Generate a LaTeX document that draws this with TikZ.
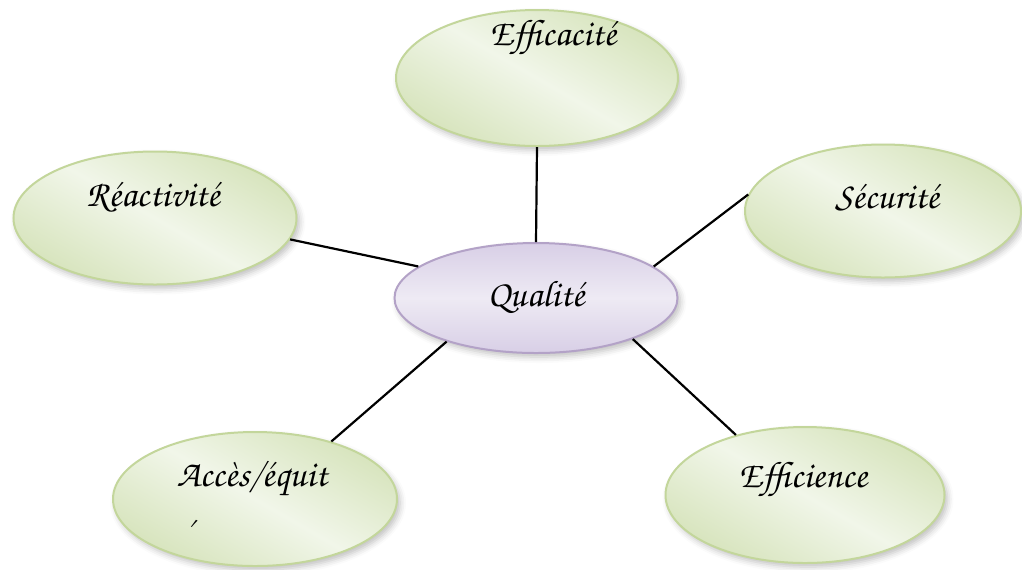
\documentclass[tikz,border=0pt]{standalone}
\usepackage[T1,TU]{fontenc}
\usetikzlibrary{shapes.geometric,shadows.blur}
\newcommand\chancery{\fontencoding{T1}\fontfamily{pzc}\fontseries{mb}\fontshape{it}\selectfont}
\definecolor{gedge}{HTML}{C3D69B}
\definecolor{gdark}{HTML}{D7E4BD}
\definecolor{glight}{HTML}{F1F6E9}
\definecolor{pedge}{HTML}{B3A2C7}
\definecolor{pdark}{HTML}{D8CFE6}
\definecolor{plight}{HTML}{EEEAF4}
\tikzset{
  bubble/.style={ellipse, inner sep=0pt, draw=gedge, line width=1pt,
    top color=gdark, bottom color=gdark, middle color=glight, shading angle=-30,
    blur shadow={shadow xshift=1.5pt, shadow yshift=-2pt, shadow blur radius=3pt, shadow opacity=25}},
  hub/.style={bubble, draw=pedge, top color=pdark, bottom color=pdark, middle color=plight},
  lbl/.style={inner sep=0pt, font=\chancery\fontsize{18.5}{20}\selectfont},
  link/.style={line width=1.1pt, black}
}
\begin{document}
\begin{tikzpicture}[x=0.5pt, y=-0.5pt]
  \useasboundingbox (0,0) rectangle (1022,569);
  % ellipses
  \node[bubble, minimum width=141pt, minimum height=68pt] (eff) at (537,78) {};
  \node[bubble, minimum width=141.5pt, minimum height=66.5pt] (rea) at (155,218) {};
  \node[bubble, minimum width=138pt, minimum height=66.5pt] (sec) at (883,211) {};
  \node[hub, minimum width=141.5pt, minimum height=55pt] (q) at (536,298) {};
  \node[bubble, minimum width=142pt, minimum height=67pt] (acc) at (255,499) {};
  \node[bubble, minimum width=139.5pt, minimum height=68pt] (efi) at (805,495) {};
  % labels
  \node[lbl] (efft) at (553,38) {Efficacit\'e};
  \node[lbl] (reat) at (153,198) {R\'eactivit\'e};
  \node[lbl] (sect) at (887,198) {S\'ecurit\'e};
  \node[lbl] (qt) at (536,297) {Qualit\'e};
  \node[lbl] (acct) at (252,480) {Acc\`es/\'equit};
  \node[lbl] (accx) at (189,532) {\'{}};
  \node[lbl] (efit) at (803,480) {Efficience};
  % connectors
  \draw[link] (eff.south) -- (q.north);
  \draw[link] (rea.-9) -- (q.165);
  \draw[link] (sec.173) -- (q.15);
  \draw[link] (acc.37) -- (q.206);
  \draw[link] (efi.139) -- (q.-23);
\end{tikzpicture}
\end{document}
